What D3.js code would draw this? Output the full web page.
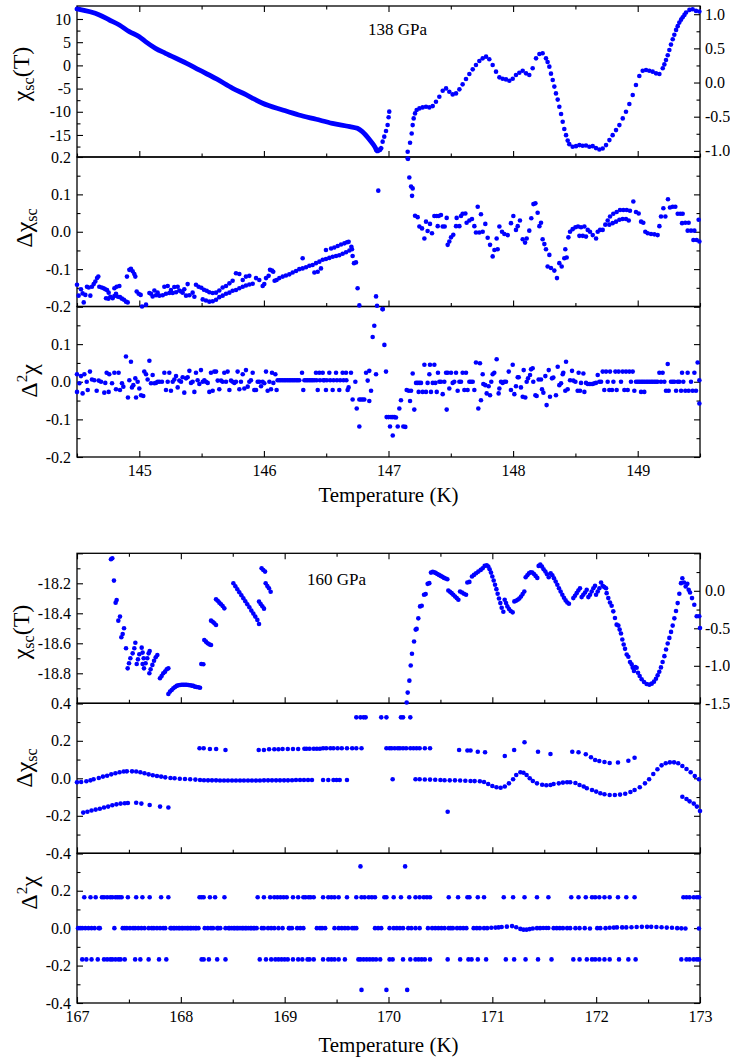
<!DOCTYPE html>
<html>
<head>
<meta charset="utf-8">
<script src="https://cdn.jsdelivr.net/npm/d3@7"></script>
<style>
body { margin: 0; background: #fff; }
svg { display: block; }
svg text { font-family: 'Liberation Serif', 'Times New Roman', Times, 'DejaVu Serif', serif; }
</style>
</head>
<body>
<svg id="chart" width="730" height="1060"></svg>
<script>
'use strict';

// ---- 138 GPa panel ----
const top_temp_domain = [144.5, 149.5];
const top_temp_ticks = [145, 146, 147, 148, 149];
const top_temp_minor = [144.5, 145.5, 146.5, 147.5, 148.5, 149.5];

// chi_sc(T), left axis part (dense curve)
const top_chi_left = [[144.50,12.16],[144.68,10.86],[144.76,9.78],[144.84,8.71],[144.92,7.27],[145.00,6.19],[145.05,5.11],[145.13,3.68],[145.21,2.60],[145.38,0.45],[145.48,-0.99],[145.62,-2.93],[145.75,-4.94],[145.86,-6.38],[145.91,-7.10],[145.99,-8.17],[146.15,-9.61],[146.28,-10.69],[146.42,-11.62],[146.55,-12.49],[146.69,-13.20],[146.75,-13.56],[146.79,-14.28],[146.85,-16.08],[146.89,-17.52],[146.91,-18.45],[146.94,-17.87]];
const top_chi_left_tail = [[146.953,-16.44],[146.966,-15.36],[146.980,-14.14],[146.993,-12.84],[147.001,-11.19],[147.006,-9.97]];
// chi_sc(T), right axis part
const top_chi_right = [[147.154,-1.112],[147.173,-0.882],[147.186,-0.745],[147.194,-0.623],[147.202,-0.525],[147.213,-0.452],[147.226,-0.403],[147.248,-0.379],[147.274,-0.364],[147.301,-0.354],[147.328,-0.364],[147.355,-0.345],[147.381,-0.281],[147.408,-0.208],[147.435,-0.120],[147.462,-0.086],[147.488,-0.134],[147.515,-0.174],[147.542,-0.159],[147.569,-0.100],[147.595,-0.027],[147.622,0.051],[147.649,0.125],[147.676,0.193],[147.702,0.256],[147.729,0.315],[147.756,0.354],[147.783,0.379],[147.809,0.340],[147.836,0.256],[147.863,0.159],[147.890,0.076],[147.916,0.056],[147.943,0.046],[147.970,0.027],[147.997,0.056],[148.023,0.110],[148.050,0.144],[148.077,0.173],[148.104,0.134],[148.130,0.110],[148.157,0.208],[148.184,0.354],[148.211,0.418],[148.237,0.428],[148.264,0.354],[148.277,0.300],[148.291,0.232],[148.304,0.130],[148.318,0.037],[148.331,-0.060],[148.344,-0.159],[148.358,-0.250],[148.371,-0.354],[148.385,-0.460],[148.398,-0.574],[148.411,-0.680],[148.425,-0.770],[148.438,-0.850],[148.451,-0.902],[148.478,-0.941],[148.505,-0.931],[148.532,-0.916],[148.558,-0.926],[148.585,-0.921],[148.612,-0.941],[148.639,-0.931],[148.665,-0.960],[148.692,-0.980],[148.719,-0.965],[148.746,-0.916],[148.773,-0.843],[148.799,-0.770],[148.826,-0.696],[148.853,-0.623],[148.880,-0.525],[148.906,-0.428],[148.933,-0.315],[148.960,-0.183],[148.986,-0.037],[149.013,0.095],[149.040,0.173],[149.067,0.183],[149.093,0.173],[149.120,0.159],[149.147,0.134],[149.174,0.125],[149.201,0.208],[149.214,0.265],[149.227,0.330],[149.241,0.400],[149.254,0.476],[149.267,0.555],[149.281,0.633],[149.294,0.700],[149.308,0.770],[149.321,0.825],[149.334,0.877],[149.348,0.920],[149.361,0.956],[149.375,0.990],[149.388,1.024],[149.415,1.063],[149.441,1.073],[149.468,1.048],[149.495,1.039]];

const top_dchi = [[144.500,-0.142],[144.513,-0.171],[144.532,-0.154],[144.545,-0.165],[144.554,-0.189],[144.567,-0.169],[144.580,-0.147],[144.594,-0.149],[144.607,-0.171],[144.620,-0.147],[144.634,-0.140],[144.647,-0.133],[144.661,-0.124],[144.671,-0.120],[144.679,-0.147],[144.698,-0.149],[144.714,-0.151],[144.727,-0.154],[144.741,-0.156],[144.754,-0.163],[144.768,-0.174],[144.786,-0.178],[144.800,-0.172],[144.813,-0.166],[144.829,-0.174],[144.845,-0.175],[144.861,-0.179],[144.877,-0.182],[144.893,-0.187],[144.907,-0.189],[144.733,-0.178],[144.752,-0.179],[144.800,-0.151],[144.818,-0.147],[144.840,-0.145],[144.901,-0.120],[144.920,-0.102],[144.933,-0.099],[144.947,-0.106],[144.960,-0.113],[144.968,-0.120],[144.979,-0.160],[144.995,-0.166],[145.011,-0.169],[145.022,-0.200],[145.054,-0.195],
[145.081,-0.164],[145.107,-0.173],[145.134,-0.170],[145.161,-0.171],[145.188,-0.170],[145.214,-0.166],[145.241,-0.164],[145.268,-0.164],[145.295,-0.162],[145.321,-0.157],[145.348,-0.163],[145.375,-0.171],[145.402,-0.170],[145.428,-0.163],[145.094,-0.166],[145.121,-0.157],[145.147,-0.163],[145.201,-0.147],[145.228,-0.145],[145.254,-0.156],[145.281,-0.148],[145.308,-0.147],[145.335,-0.160],[145.361,-0.154],[145.388,-0.140],[145.442,-0.174],
[145.455,-0.142],[145.476,-0.147],[145.498,-0.150],[145.519,-0.155],[145.541,-0.158],[145.562,-0.162],[145.589,-0.164],[145.616,-0.163],[145.642,-0.157],[145.669,-0.149],[145.696,-0.145],[145.509,-0.181],[145.535,-0.184],[145.562,-0.187],[145.589,-0.186],[145.616,-0.182],[145.642,-0.175],[145.669,-0.171],[145.696,-0.166],[145.723,-0.163],[145.749,-0.158],[145.776,-0.156],[145.803,-0.151],[145.830,-0.147],[145.856,-0.144],[145.883,-0.141],[145.910,-0.139],[145.723,-0.138],[145.749,-0.131],[145.776,-0.111],[145.803,-0.113],[145.830,-0.129],[145.856,-0.120],[145.883,-0.118],[145.937,-0.124],[145.963,-0.129],[145.990,-0.145],[146.003,-0.140],[146.017,-0.124],[146.038,-0.118],[146.049,-0.102],[146.065,-0.104],[146.075,-0.107],[146.086,-0.131],[146.102,-0.129],
[146.124,-0.124],[146.151,-0.120],[146.177,-0.117],[146.204,-0.114],[146.231,-0.109],[146.258,-0.105],[146.284,-0.100],[146.311,-0.098],[146.338,-0.095],[146.365,-0.091],[146.391,-0.089],[146.418,-0.084],[146.445,-0.080],[146.472,-0.075],[146.498,-0.073],[146.525,-0.070],[146.552,-0.067],[146.579,-0.065],[146.605,-0.063],[146.632,-0.059],[146.659,-0.055],[146.686,-0.050],[146.707,-0.047],[146.311,-0.071],[146.405,-0.109],[146.432,-0.107],[146.458,-0.098],[146.498,-0.049],[146.539,-0.045],[146.565,-0.042],[146.592,-0.038],[146.619,-0.034],[146.646,-0.031],[146.667,-0.028],[146.680,-0.027],[146.702,-0.040],[146.712,-0.065],[146.723,-0.084],[146.739,-0.082],[146.752,-0.151],[146.766,-0.197],[146.900,-0.173],[146.918,0.110],[146.908,-0.198],[146.953,-0.207],[146.903,0.219],[146.930,0.219],
[147.154,0.214],[147.157,0.195],[147.167,0.145],[147.181,0.121],[147.194,0.116],[147.189,0.096],[147.213,0.043],[147.234,0.039],[147.248,0.014],[147.269,0.009],[147.288,-0.018],[147.301,0.027],[147.314,0.002],[147.333,0.021],[147.349,-0.004],[147.368,0.042],[147.387,0.042],[147.403,0.042],[147.421,0.045],[147.395,0.015],[147.435,0.014],[147.451,0.014],[147.467,0.037],[147.475,-0.035],[147.488,-0.026],[147.502,-0.015],[147.520,-0.008],[147.542,0.015],[147.547,0.037],[147.569,0.015],[147.582,0.042],[147.595,0.048],[147.617,0.049],[147.627,0.024],[147.649,0.030],[147.670,0.034],[147.689,0.015],[147.716,0.067],[147.702,-0.002],[147.729,-0.002],[147.742,0.047],[147.756,0.000],[147.777,0.021],[147.796,-0.016],[147.815,-0.035],[147.836,-0.066],[147.850,-0.049],[147.876,-0.047],[147.868,-0.018],[147.890,0.014],[147.911,0.000],[147.930,-0.006],[147.957,-0.009],[147.983,0.023],[148.002,0.042],[148.023,0.005],[148.037,0.015],[148.055,0.030],[148.077,-0.020],[148.096,-0.029],[148.109,-0.018],[148.130,0.003],[148.146,0.036],[148.163,0.074],[148.179,0.076],[148.197,0.051],[148.211,0.015],[148.224,0.024],[148.237,-0.020],[148.251,-0.033],[148.264,-0.047],[148.291,-0.062],[148.277,-0.093],[148.304,-0.097],[148.331,-0.104],[148.352,-0.124],[148.371,-0.084],[148.390,-0.093],[148.411,-0.071],[148.430,-0.069],[148.419,-0.047],[148.444,-0.015],[148.457,0.000],[148.478,0.007],[148.500,0.012],[148.521,0.014],[148.545,0.012],[148.572,0.014],[148.532,-0.011],[148.559,-0.011],[148.585,-0.013],[148.599,0.005],[148.617,0.000],[148.639,-0.009],[148.666,-0.018],[148.679,0.000],[148.698,0.005],[148.719,0.005],[148.740,0.019],[148.759,0.030],[148.778,0.041],[148.804,0.048],[148.831,0.053],[148.858,0.058],[148.885,0.058],[148.912,0.058],[148.938,0.056],[148.965,0.081],[148.772,0.019],[148.799,0.023],[148.826,0.027],[148.853,0.032],[148.879,0.034],[148.906,0.034],[148.928,0.030],[148.986,0.053],[149.008,0.049],[149.027,0.027],[149.045,0.024],[149.061,0.000],[149.080,-0.004],[149.107,-0.006],[149.134,-0.007],[149.160,-0.009],[149.174,0.015],[149.187,0.041],[149.206,0.063],[149.222,0.041],[149.243,0.087],[149.259,0.065],[149.281,0.067],[149.302,0.067],[149.321,0.048],[149.342,0.048],[149.361,0.048],[149.356,0.023],[149.382,0.024],[149.409,0.024],[149.401,0.003],[149.428,0.003],[149.455,0.003],[149.447,-0.022],[149.473,-0.022],[149.495,-0.026],[149.489,0.032]];

const top_d2chi = [[144.500,0.020],[144.500,-0.027],[144.519,-0.004],[144.532,0.015],[144.545,-0.031],[144.559,0.020],[144.578,0.000],[144.586,-0.022],[144.604,0.027],[144.620,0.006],[144.639,0.004],[144.658,-0.024],[144.674,0.003],[144.693,0.000],[144.719,-0.029],[144.727,-0.003],[144.738,0.024],[144.754,-0.027],[144.759,0.020],[144.781,-0.004],[144.800,0.024],[144.813,-0.020],[144.834,0.024],[144.845,-0.022],[144.861,-0.004],[144.872,-0.013],[144.893,0.067],[144.909,-0.042],[144.920,0.004],[144.933,0.053],[144.941,-0.015],[144.952,-0.009],[144.968,0.009],[144.974,-0.042],[144.987,0.000],[145.000,-0.018],[145.014,-0.036],[145.032,-0.038],[145.040,0.027],[145.054,0.020],[145.067,0.006],[145.081,0.056],[145.094,-0.004],[145.107,0.018],[145.121,-0.004],[145.134,-0.003],[145.147,0.000],[145.161,0.000],[145.182,0.000],[145.201,0.024],[145.214,-0.022],[145.228,0.000],[145.241,0.024],[145.254,-0.024],[145.268,0.000],[145.281,0.006],[145.295,0.015],[145.308,-0.015],[145.321,0.003],[145.335,0.000],[145.348,0.012],[145.361,-0.029],[145.375,0.009],[145.388,0.012],[145.402,0.029],[145.415,-0.003],[145.428,0.000],[145.442,-0.027],[145.455,0.024],[145.468,0.004],[145.482,-0.006],[145.495,0.031],[145.509,0.000],[145.522,0.004],[145.535,0.000],[145.549,-0.003],[145.562,-0.027],[145.575,0.024],[145.589,-0.024],[145.602,0.027],[145.616,0.027],[145.629,0.003],[145.642,-0.020],[145.656,0.003],[145.669,0.000],[145.682,0.024],[145.696,0.000],[145.709,0.027],[145.723,-0.022],[145.736,0.003],[145.749,0.000],[145.763,-0.003],[145.776,0.000],[145.789,0.027],[145.803,-0.020],[145.816,0.000],[145.830,0.020],[145.843,-0.018],[145.856,0.031],[145.870,-0.013],[145.883,0.000],[145.896,0.004],[145.910,0.024],[145.923,-0.022],[145.937,-0.022],[145.950,0.000],[145.963,0.000],[145.977,-0.012],[145.990,0.000],[146.003,-0.004],[146.017,0.027],[146.030,-0.024],[146.044,0.000],[146.057,-0.020],[146.065,0.024],[146.076,-0.003],[146.092,0.020],[146.102,-0.022],
[146.110,0.004],[146.124,0.004],[146.137,0.004],[146.151,0.004],[146.164,0.004],[146.177,0.004],[146.191,0.004],[146.204,0.004],[146.217,0.004],[146.231,0.004],[146.244,0.004],[146.258,0.004],[146.271,0.004],[146.284,0.004],[146.306,0.024],[146.316,-0.022],[146.325,0.004],[146.338,0.004],[146.351,0.004],[146.365,0.004],[146.378,0.004],[146.391,0.004],[146.405,0.004],[146.418,0.024],[146.423,0.004],[146.432,-0.022],[146.445,0.024],[146.450,0.004],[146.472,0.024],[146.477,0.004],[146.485,0.004],[146.498,-0.022],[146.505,0.004],[146.525,0.024],[146.532,0.004],[146.552,-0.022],[146.559,0.004],[146.579,0.024],[146.586,0.004],[146.605,-0.022],[146.612,0.004],[146.632,0.024],[146.639,0.004],[146.659,0.024],[146.662,0.004],[146.672,-0.022],[146.680,-0.015],[146.699,0.024],[146.712,-0.047],[146.734,0.000],[146.745,-0.071],
[146.766,-0.047],[146.779,-0.047],[146.793,-0.047],[146.806,-0.047],[146.766,-0.119],[146.820,0.024],[146.833,0.003],[146.846,0.029],[146.860,-0.024],[146.846,-0.051],[146.873,0.119],[146.886,0.149],[146.900,0.020],[146.953,0.193],[146.967,0.098],[146.980,0.027],[146.985,-0.094],[147.001,-0.094],[147.020,-0.094],[147.034,-0.094],[147.047,-0.094],[147.060,-0.095],[147.012,-0.119],[147.034,-0.143],[147.074,-0.119],[147.087,-0.071],[147.100,-0.049],[147.119,-0.119],[147.135,-0.120],[147.146,-0.022],[147.162,-0.024],[147.173,-0.051],[147.181,-0.024],[147.194,0.022],[147.207,-0.074],[147.221,-0.003],[147.234,-0.003],[147.248,-0.003],[147.261,-0.003],[147.242,-0.027],[147.274,-0.027],[147.288,0.045],[147.301,-0.027],[147.314,-0.003],[147.328,0.020],[147.333,0.045],[147.341,-0.027],[147.355,-0.003],[147.368,0.045],[147.376,-0.003],[147.387,-0.027],[147.397,0.024],[147.408,0.000],[147.421,0.000],[147.435,-0.033],[147.448,0.000],[147.462,0.024],[147.467,-0.074],[147.475,0.024],[147.488,-0.018],[147.502,0.024],[147.515,-0.003],[147.528,0.000],[147.542,0.024],[147.555,-0.024],[147.569,0.000],[147.582,0.000],[147.595,0.024],[147.609,-0.022],[147.622,0.024],[147.635,-0.022],[147.649,0.000],[147.662,0.000],[147.676,0.000],[147.689,-0.022],[147.702,0.051],[147.721,-0.071],[147.734,0.049],[147.742,-0.049],[147.756,0.020],[147.761,-0.006],[147.777,-0.009],[147.788,-0.031],[147.804,-0.012],[147.815,-0.036],[147.825,0.000],[147.836,0.020],[147.849,0.024],[147.868,0.060],[147.884,-0.031],[147.890,-0.018],[147.903,0.000],[147.916,-0.003],[147.930,0.000],[147.943,0.000],[147.965,0.027],[147.983,-0.022],[147.997,0.045],[148.010,-0.033],[148.023,-0.012],[148.037,0.012],[148.045,0.012],[148.063,-0.015],[148.077,-0.040],[148.085,0.031],[148.098,-0.042],[148.109,0.000],[148.120,0.009],[148.136,0.018],[148.144,0.033],[148.157,0.036],[148.162,0.000],[148.179,-0.036],[148.189,-0.038],[148.205,0.006],[148.224,0.006],[148.232,-0.020],[148.243,-0.029],[148.259,0.015],[148.269,-0.062],[148.286,0.031],[148.296,-0.040],[148.312,0.009],[148.323,0.011],[148.344,-0.036],[148.358,0.040],[148.371,-0.009],[148.385,-0.004],[148.398,0.020],[148.403,0.024],[148.419,-0.024],[148.425,0.053],[148.438,-0.020],[148.457,0.004],[148.473,0.029],[148.483,0.003],[148.500,0.000],[148.518,-0.024],[148.526,0.024],[148.537,-0.024],[148.545,-0.003],[148.564,0.022],[148.572,-0.027],[148.585,-0.003],[148.599,-0.006],[148.612,-0.006],[148.625,-0.006],[148.639,-0.006],[148.652,-0.004],[148.665,-0.003],[148.679,0.018],[148.692,0.000],[148.706,0.000],[148.719,0.027],[148.732,-0.022],[148.746,0.027],[148.759,0.000],[148.772,-0.022],[148.778,0.027],[148.794,-0.022],[148.805,0.000],[148.821,0.027],[148.831,-0.022],[148.847,0.027],[148.866,0.000],[148.879,0.027],[148.893,-0.022],[148.906,0.027],[148.920,-0.022],[148.933,0.027],[148.946,0.000],[148.960,0.027],[148.973,-0.024],[148.986,0.000],[149.000,0.000],[149.013,0.000],[149.027,0.000],[149.040,0.000],[149.053,0.000],[149.067,0.000],[149.080,0.000],[149.093,0.000],[149.107,0.000],[149.120,0.000],[149.134,0.000],[149.147,0.000],[149.160,0.000],[149.027,-0.027],[149.053,-0.027],[149.174,0.024],[149.187,0.000],[149.200,0.024],[149.214,0.000],[149.227,-0.024],[149.241,0.047],[149.249,-0.024],[149.267,0.000],[149.281,0.000],[149.294,0.000],[149.308,-0.024],[149.321,0.000],[149.334,0.000],[149.348,-0.024],[149.356,0.024],[149.366,0.000],[149.382,-0.024],[149.401,0.024],[149.409,-0.024],[149.428,0.000],[149.441,-0.024],[149.455,0.024],[149.468,-0.024],[149.481,0.051],[149.495,0.004],[149.495,-0.058]];

// ---- 160 GPa panel ----
const bot_temp_domain = [167, 173];
const bot_temp_ticks = [167, 168, 169, 170, 171, 172, 173];
const bot_temp_minor = [167.5, 168.5, 169.5, 170.5, 171.5, 172.5];

const bot_chi_left = [[167.327,-18.040],[167.340,-18.033],[167.356,-18.182],[167.372,-18.329],[167.382,-18.311],[167.398,-18.449],[167.414,-18.422],[167.427,-18.560],[167.440,-18.538],[167.453,-18.500],[167.472,-18.633],[167.488,-18.767],[167.501,-18.733],[167.514,-18.700],[167.536,-18.667],[167.552,-18.633],[167.562,-18.596],[167.575,-18.738],[167.587,-18.707],[167.600,-18.673],[167.623,-18.629],[167.632,-18.662],[167.642,-18.700],[167.632,-18.738],[167.645,-18.767],[167.661,-18.733],[167.677,-18.700],[167.690,-18.667],[167.700,-18.651],[167.697,-18.800],[167.709,-18.773],[167.726,-18.744],[167.742,-18.716],[167.758,-18.693],[167.774,-18.678],[167.799,-18.833],[167.815,-18.818],[167.831,-18.800],[167.848,-18.789],[167.864,-18.773],[167.880,-18.767],
[167.880,-18.938],[167.896,-18.922],[167.912,-18.911],[167.928,-18.900],[167.944,-18.891],[167.960,-18.884],[167.976,-18.880],[167.992,-18.878],[168.008,-18.876],[168.024,-18.876],[168.040,-18.876],[168.056,-18.876],[168.072,-18.878],[168.088,-18.880],[168.104,-18.882],[168.120,-18.884],[168.136,-18.889],[168.152,-18.891],[168.169,-18.893],[168.185,-18.896],[168.197,-18.738],[168.217,-18.740],[168.226,-18.578],[168.242,-18.589],[168.258,-18.600],[168.274,-18.607],[168.291,-18.611],[168.291,-18.449],[168.307,-18.456],[168.323,-18.467],[168.339,-18.478],[168.339,-18.307],[168.355,-18.316],[168.371,-18.329],[168.387,-18.340],[168.403,-18.351],[168.419,-18.367],
[168.506,-18.200],[168.525,-18.220],[168.544,-18.240],[168.563,-18.260],[168.583,-18.280],[168.602,-18.300],[168.621,-18.320],[168.640,-18.340],[168.660,-18.360],[168.679,-18.382],[168.698,-18.402],[168.717,-18.422],[168.737,-18.444],[168.753,-18.471],[168.753,-18.322],[168.769,-18.338],[168.785,-18.353],[168.801,-18.369],[168.817,-18.200],[168.833,-18.218],[168.849,-18.233],[168.865,-18.256],[168.778,-18.100],[168.794,-18.111],[168.811,-18.122]];

const bot_chi_right = [[170.175,-1.490],[170.185,-1.357],[170.201,-1.198],[170.214,-0.995],[170.226,-0.840],[170.246,-0.676],[170.262,-0.517],[170.271,-0.508],[170.287,-0.367],[170.304,-0.208],[170.320,-0.199],[170.342,-0.053],[170.358,-0.044],[170.377,0.093],[170.393,0.102],[170.409,0.243],[170.426,0.252],[170.438,0.248],[170.454,0.239],[170.470,0.225],[170.486,0.212],[170.503,0.199],[170.519,0.186],[170.535,0.172],[170.551,0.164],[170.567,0.155],[170.576,0.004],[170.592,-0.013],[170.608,-0.031],[170.624,-0.053],[170.641,-0.075],[170.657,-0.097],[170.673,-0.119],[170.689,-0.009],[170.708,-0.022],[170.727,-0.040],[170.747,-0.053],[170.759,0.111],[170.779,0.119],[170.804,0.190],[170.823,0.212],[170.843,0.234],[170.865,0.256],[170.888,0.279],[170.907,0.301],[170.926,0.332],[170.946,0.340],[170.961,0.323],[170.974,0.287],[170.987,0.243],[171.000,0.190],[171.013,0.137],[171.026,0.080],[171.039,0.022],[171.051,-0.040],[171.064,-0.102],[171.077,-0.164],[171.090,-0.225],[171.106,-0.279],[171.119,-0.119],[171.132,-0.164],[171.145,-0.208],[171.161,-0.243],[171.177,-0.270],[171.196,-0.287],[171.212,-0.141],[171.228,-0.133],[171.244,-0.119],[171.260,-0.102],[171.276,-0.075],[171.292,-0.044],[171.308,-0.009],[171.321,0.181],[171.337,0.208],[171.353,0.234],[171.369,0.248],[171.385,0.243],[171.401,0.225],[171.417,0.199],[171.433,0.172],[171.446,0.332],[171.462,0.349],[171.478,0.323],[171.494,0.287],[171.511,0.256],[171.527,0.221],[171.543,0.181],[171.562,0.234],[171.578,0.208],[171.594,0.168],[171.610,0.124],[171.626,0.080],[171.642,0.035],[171.658,-0.009],[171.674,-0.053],[171.690,-0.093],[171.706,-0.128],[171.722,-0.155],[171.738,-0.172],[171.780,-0.097],[171.796,-0.066],[171.812,-0.031],[171.828,0.004],[171.844,0.035],[171.860,-0.084],[171.876,-0.053],[171.893,-0.022],[171.909,0.013],[171.925,-0.084],[171.941,-0.053],[171.957,-0.009],[171.973,0.035],[171.989,0.066],[171.999,-0.053],[172.015,-0.009],[172.031,0.035],[172.047,0.111],[172.063,0.066],[172.079,0.049],[172.095,0.035],[172.101,-0.031],[172.117,-0.097],[172.133,-0.155],[172.149,-0.199],[172.165,-0.274],[172.181,-0.363],[172.197,-0.451],[172.214,-0.464],[172.226,-0.517],[172.239,-0.570],[172.252,-0.650],[172.265,-0.716],[172.278,-0.774],[172.294,-0.849],[172.310,-0.880],[172.326,-0.950],[172.342,-0.981],[172.352,-1.026],[172.364,-1.070],[172.377,-1.017],[172.390,-1.026],[172.403,-1.092],[172.419,-1.136],[172.438,-1.180],[172.461,-1.216],[172.486,-1.242],[172.512,-1.251],[172.535,-1.238],[172.557,-1.211],[172.576,-1.172],[172.592,-1.127],[172.608,-1.079],[172.624,-1.021],[172.640,-0.950],[172.657,-0.871],[172.673,-0.782],[172.689,-0.703],[172.705,-0.628],[172.721,-0.548],[172.737,-0.464],[172.753,-0.367],[172.769,-0.270],[172.785,-0.164],[172.801,-0.040],[172.817,0.102],[172.830,0.168],[172.846,0.111],[172.862,0.057],[172.878,0.093],[172.891,0.013],[172.904,-0.022],[172.923,-0.097],[172.945,-0.186],[172.968,-0.340],[172.993,-0.340],[173.000,-0.495]];

const bot_dchi = [[167.00,-0.021],[167.04,-0.020],[167.09,-0.016],[167.13,-0.011],[167.16,-0.005],[167.21,0.002],[167.25,0.009],[167.29,0.014],[167.33,0.021],[167.37,0.027],[167.41,0.032],[167.45,0.036],[167.48,0.037],[167.53,0.037],[167.57,0.036],[167.61,0.032],[167.65,0.027],[167.69,0.021],[167.73,0.016],[167.77,0.012],[167.81,0.009],[167.85,0.005],[167.90,0.002],[167.94,0.000],[167.99,-0.002],[168.04,-0.004],[168.09,-0.005],[168.14,-0.007],[168.185,-0.009],[168.223,-0.010],[168.262,-0.011],[168.300,-0.011],[168.339,-0.011],[168.377,-0.012],[168.416,-0.012],[168.454,-0.012],[168.493,-0.012],[168.531,-0.012],[168.570,-0.012],[168.608,-0.012],[168.647,-0.012],[168.685,-0.012],[168.724,-0.012],[168.762,-0.012],[168.801,-0.011],[168.840,-0.011],[168.878,-0.011],[168.917,-0.011],[168.955,-0.011],[168.994,-0.011],[169.032,-0.011],[169.071,-0.010],[169.109,-0.009],[169.148,-0.009],[169.186,-0.009],[169.225,-0.009],[169.263,-0.009],[169.37,-0.009],[169.42,-0.009],[169.47,-0.009],[169.50,-0.009],[169.53,-0.009],[169.60,-0.009],
[167.06,-0.183],[167.10,-0.178],[167.14,-0.172],[167.18,-0.167],[167.22,-0.162],[167.26,-0.156],[167.30,-0.151],[167.34,-0.144],[167.38,-0.139],[167.42,-0.135],[167.46,-0.133],[167.49,-0.132],[167.57,-0.130],[167.62,-0.135],[167.70,-0.142],[167.80,-0.151],[167.88,-0.156],
[168.18,0.160],[168.22,0.160],[168.28,0.156],[168.34,0.156],[168.43,0.151],[168.75,0.151],[168.80,0.151],[168.85,0.155],[168.90,0.155],[168.94,0.155],[168.98,0.156],[169.03,0.156],[169.08,0.156],[169.13,0.156],[169.19,0.158],[169.21,0.158],[169.24,0.158],[169.28,0.158],[169.31,0.158],[169.34,0.158],[169.37,0.160],[169.40,0.160],[169.44,0.160],[169.47,0.160],[169.51,0.160],[169.55,0.160],[169.60,0.160],[169.65,0.160],[169.69,0.160],[169.74,0.160],[169.98,0.160],[170.01,0.160],[170.03,0.160],[170.06,0.160],[170.09,0.160],[170.11,0.160],[170.14,0.160],[170.17,0.160],[170.21,0.160],[170.24,0.160],[170.27,0.160],[170.30,0.160],[170.35,0.160],[170.40,0.160],
[169.69,0.325],[169.73,0.325],[169.76,0.325],[169.78,0.325],[169.93,0.325],[169.98,0.325],[170.12,0.325],[170.14,0.325],[170.21,0.325],[170.04,-0.005],
[170.26,-0.005],[170.30,-0.005],[170.35,-0.006],[170.40,-0.007],[170.45,-0.008],[170.50,-0.009],[170.54,-0.010],[170.59,-0.011],[170.64,-0.011],[170.69,-0.012],[170.74,-0.013],[170.79,-0.014],[170.83,-0.015],[170.88,-0.016],[170.92,-0.020],[170.96,-0.030],[171.00,-0.041],[171.04,-0.048],[171.08,-0.050],[171.12,-0.044],[171.16,-0.027],[171.20,-0.005],[171.23,0.018],[171.27,0.032],[171.30,0.030],[171.33,0.018],[171.36,0.000],[171.39,-0.014],[171.43,-0.027],[171.48,-0.034],[171.52,-0.037],[171.56,-0.036],[171.59,-0.030],[171.64,-0.027],[171.68,-0.023],[171.72,-0.021],[171.75,-0.021],[171.80,-0.025],[171.84,-0.036],[171.88,-0.044],[171.91,-0.053],[171.96,-0.062],[172.00,-0.071],[172.04,-0.080],[172.08,-0.085],[172.13,-0.089],[172.18,-0.089],[172.23,-0.087],[172.28,-0.082],[172.33,-0.073],[172.37,-0.062],[172.42,-0.048],[172.47,-0.027],[172.51,-0.005],[172.55,0.023],[172.59,0.048],[172.63,0.069],[172.67,0.080],[172.71,0.085],[172.75,0.085],[172.79,0.080],[172.83,0.066],[172.87,0.050],[172.91,0.032],[172.95,0.012],[172.99,-0.005],
[172.83,-0.098],[172.87,-0.110],[172.90,-0.123],[172.94,-0.135],[172.97,-0.151],[173.00,-0.174],[170.57,-0.178],
[170.68,0.151],[170.76,0.148],[170.79,0.148],[170.86,0.142],[170.93,0.139],[171.12,0.119],[171.21,0.151],[171.31,0.192],[171.44,0.142],[171.56,0.130],[171.77,0.142],[171.83,0.139],[171.90,0.128],[171.95,0.112],[171.99,0.098],[172.03,0.092],[172.08,0.087],[172.13,0.082],[172.21,0.084],[172.31,0.094],[172.37,0.110]];

// second difference sits on three levels plus a few outliers
const bot_d2_up_level = 0.165, bot_d2_down_level = -0.167;
const bot_d2_up_t = [167.07,167.13,167.18,167.24,167.26,167.29,167.32,167.34,167.37,167.39,167.41,167.43,167.49,167.57,167.63,167.70,167.81,167.88,168.18,168.20,168.22,168.28,168.33,168.42,168.74,168.80,168.86,168.90,168.93,168.96,168.99,169.02,169.08,169.13,169.18,169.20,169.23,169.25,169.28,169.37,169.42,169.45,169.48,169.52,169.60,169.69,169.74,169.77,169.81,169.84,169.87,169.96,169.98,170.05,170.12,170.20,170.26,170.30,170.34,170.37,170.40,170.58,170.67,170.76,170.78,170.86,170.92,171.11,171.20,171.31,171.43,171.54,171.76,171.83,171.90,171.96,171.99,172.03,172.08,172.13,172.21,172.29,172.37,172.84,172.87,172.90,172.94,172.97,172.99];
const bot_d2_down_t = [167.05,167.09,167.14,167.20,167.26,167.29,167.32,167.34,167.37,167.40,167.42,167.46,167.56,167.61,167.69,167.79,167.86,168.20,168.22,168.27,168.35,168.43,168.76,168.82,168.87,168.91,168.94,168.97,169.00,169.03,169.08,169.13,169.17,169.22,169.24,169.28,169.37,169.42,169.45,169.48,169.52,169.58,169.71,169.73,169.76,169.79,169.82,169.85,169.88,169.92,170.01,170.04,170.14,170.21,170.26,170.29,170.32,170.35,170.40,170.57,170.69,170.77,170.80,170.86,170.94,171.13,171.21,171.32,171.44,171.57,171.78,171.84,171.91,171.96,171.99,172.03,172.08,172.13,172.22,172.31,172.38,172.82,172.87,172.90,172.94,172.97,172.99];
const bot_d2_zero = [[167.01,0],[167.03,0],[167.05,0],[167.08,0],[167.11,0],[167.14,0],[167.17,0],[167.21,0],[167.22,0],[167.36,0],[167.44,0],[167.46,0],[167.48,0],[167.51,0],[167.54,0],[167.56,0],[167.59,0],[167.62,0],[167.65,0],[167.69,0],[167.72,0],[167.74,0],[167.77,0],[167.80,0],[167.83,0],[167.85,0],[167.90,0],[167.91,0],[167.93,0],[167.94,0],[167.96,0],[167.98,0],[167.99,0],[168.01,0],[168.02,0],[168.04,0],[168.06,0],[168.07,0],[168.09,0],[168.10,0],[168.12,0],[168.14,0],[168.15,0],[168.17,0],[168.23,0],[168.26,0],[168.29,0],[168.31,0],[168.35,0],[168.36,0],[168.38,0],[168.43,0],[168.46,0],[168.47,0],[168.49,0],[168.51,0],[168.52,0],[168.54,0],[168.55,0],[168.57,0],[168.59,0],[168.60,0],[168.62,0],[168.63,0],[168.65,0],[168.67,0],[168.68,0],[168.70,0],[168.71,0],[168.73,0],[168.78,0],[168.80,0],[168.84,0],[168.87,0],[168.90,0],[168.94,0],[168.98,0],[169.04,0],[169.05,0],[169.07,0],[169.12,0],[169.15,0],[169.18,0],[169.31,0],[169.34,0],[169.36,0],[169.39,0],[169.48,0],[169.52,0],[169.55,0],[169.58,0],[169.61,0],[169.65,0],[169.67,0],[169.69,0],
[169.87,0],[169.90,0],[169.93,0],[170.01,0],[170.05,0],[170.08,0],[170.11,0],[170.14,0],[170.19,0],[170.22,0],[170.26,0],[170.30,0],[170.38,0],[170.42,0],[170.45,0],[170.48,0],[170.51,0],[170.54,0],[170.58,0],[170.60,0],[170.62,0],[170.66,0],[170.69,0],[170.72,0],[170.75,0],[170.82,0],[170.85,0],[170.88,0],[170.92,0],[170.95,0],[170.99,0.002],[171.03,0.003],[171.06,0.004],[171.09,0.006],[171.14,0.008],[171.19,0.011],[171.23,0.005],[171.27,-0.004],[171.30,-0.008],[171.33,-0.008],[171.36,-0.005],[171.39,-0.002],[171.43,0],[171.46,0],[171.49,0.001],[171.52,0.001],[171.54,0.001],[171.59,0],[171.62,0],[171.65,0],[171.68,0],[171.72,0],[171.75,0],[171.80,0],[171.84,0],[171.89,0],[171.94,-0.002],[172.01,0],[172.04,0],[172.09,0],[172.13,0.002],[172.17,0.003],[172.20,0.004],[172.25,0.004],[172.29,0.004],[172.34,0.005],[172.39,0.006],[172.44,0.007],[172.49,0.007],[172.53,0.007],[172.58,0.006],[172.63,0.005],[172.68,0.003],[172.73,0.002],[172.78,0],[172.82,-0.001],[172.86,-0.002],[172.99,-0.002]];
const bot_d2_outer = [[169.73,0.33],[170.16,0.33],[169.74,-0.33],[169.98,-0.33],[170.18,-0.33]];

// ---- drawing ----
const dot_color = '#0000ff';
const plot_left = 77, plot_right = 700;

const svg = d3.select('#chart');
svg.append('rect').attr('width', 730).attr('height', 1060).attr('fill', '#fff');

function fmt_1(v) { return (v < -1e-9 ? '-' : '') + Math.abs(v).toFixed(1); }
function fmt_0(v) { return (v < 0 ? '-' : '') + Math.abs(v); }

function tidy(g) {
    g.select('.domain').remove();
    g.attr('font-family', null).attr('font-size', 16).attr('color', '#000');
    g.selectAll('line').attr('stroke-width', 1.1);
}

function y_axis(g, axis_fn, pos, scale, majors, minors, labels, fmt, pad) {
    g.append('g').attr('transform', `translate(${pos},0)`)
        .call(axis_fn(scale).tickValues(majors).tickSize(-6).tickPadding(pad)
            .tickFormat(d => labels.includes(d) ? fmt(d) : ''))
        .call(tidy);
    g.append('g').attr('transform', `translate(${pos},0)`)
        .call(axis_fn(scale).tickValues(minors).tickSize(-3.5).tickFormat(''))
        .call(tidy);
}

function draw_subplot(cfg) {
    const {x, top, bottom, domain, majors, minors, labels, fmt, right, first, last} = cfg;
    const y = d3.scaleLinear().domain(domain).range([bottom, top]);
    const g = svg.append('g');

    y_axis(g, d3.axisLeft, plot_left, y, majors, minors, labels, fmt, 6);
    if (right) {
        const y_r = d3.scaleLinear().domain(right.domain).range([bottom, top]);
        y_axis(g, d3.axisRight, plot_right, y_r, right.majors, right.minors, right.labels, fmt_1, 5);
        cfg.y_right = y_r;
    } else {
        y_axis(g, d3.axisRight, plot_right, y, majors, minors, [], fmt, 5);
    }

    g.append('g').attr('transform', `translate(0,${bottom})`)
        .call(d3.axisBottom(x).tickValues(cfg.t_ticks).tickSize(-6).tickPadding(8)
            .tickFormat(d => last ? String(d) : ''))
        .call(tidy);
    g.append('g').attr('transform', `translate(0,${bottom})`)
        .call(d3.axisBottom(x).tickValues(cfg.t_minor).tickSize(-3.5).tickFormat(''))
        .call(tidy);
    if (first) {
        g.append('g').attr('transform', `translate(0,${top})`)
            .call(d3.axisTop(x).tickValues(cfg.t_ticks).tickSize(-6).tickFormat(''))
            .call(tidy);
        g.append('g').attr('transform', `translate(0,${top})`)
            .call(d3.axisTop(x).tickValues(cfg.t_minor).tickSize(-3.5).tickFormat(''))
            .call(tidy);
    }

    g.append('rect')
        .attr('x', plot_left).attr('y', top)
        .attr('width', plot_right - plot_left).attr('height', bottom - top)
        .attr('fill', 'none').attr('stroke', '#000').attr('stroke-width', 1.3);
    return y;
}

function dots(data, x, y) {
    svg.append('g').selectAll('circle')
        .data(data)
        .join('circle')
        .attr('cx', d => x(d[0]))
        .attr('cy', d => y(d[1]))
        .attr('r', 2.3)
        .attr('fill', dot_color);
}

function y_title(cx, cy, parts) {
    const t = svg.append('text')
        .attr('transform', `translate(${cx},${cy}) rotate(-90)`)
        .attr('text-anchor', 'middle')
        .attr('font-size', 23)
        .attr('fill', '#000');
    parts.forEach(([s, size, dy]) => {
        t.append('tspan').attr('font-size', size).attr('dy', dy).text(s);
    });
}

function x_title(y) {
    svg.append('text')
        .attr('x', (plot_left + plot_right) / 2).attr('y', y)
        .attr('text-anchor', 'middle')
        .attr('font-size', 21)
        .text('Temperature (K)');
}

const chi_title = [['χ', 24, 0], ['sc', 16, 5], ['(T)', 24, -5]];
const dchi_title = [['Δχ', 24, 0], ['sc', 16, 5]];
const d2chi_title = [['Δ', 24, 0], ['2', 15, -10], ['χ', 24, 10]];

// 138 GPa
const x_top = d3.scaleLinear().domain(top_temp_domain).range([plot_left, plot_right]);
const top_base = {x: x_top, t_ticks: top_temp_ticks, t_minor: top_temp_minor};

const top_cfg1 = Object.assign({}, top_base, {
    top: 6, bottom: 157, domain: [-19.75, 12.8],
    majors: [-15, -10, -5, 0, 5, 10], minors: [-17.5, -12.5, -7.5, -2.5, 2.5, 7.5, 12.5],
    labels: [-15, -10, -5, 0, 5, 10], fmt: fmt_0, first: true,
    right: {domain: [-1.09, 1.12], majors: [-1, -0.5, 0, 0.5, 1], minors: [-0.75, -0.25, 0.25, 0.75], labels: [-1, -0.5, 0, 0.5, 1]}
});
const y_top1 = draw_subplot(top_cfg1);
const y_top2 = draw_subplot(Object.assign({}, top_base, {
    top: 157, bottom: 306.5, domain: [-0.2, 0.2],
    majors: [-0.2, -0.1, 0, 0.1, 0.2], minors: [-0.15, -0.05, 0.05, 0.15],
    labels: [-0.2, -0.1, 0, 0.1, 0.2], fmt: fmt_1
}));
const y_top3 = draw_subplot(Object.assign({}, top_base, {
    top: 306.5, bottom: 457, domain: [-0.2, 0.2],
    majors: [-0.2, -0.1, 0, 0.1, 0.2], minors: [-0.15, -0.05, 0.05, 0.15],
    labels: [-0.2, -0.1, 0, 0.1], fmt: fmt_1, last: true
}));

svg.append('path')
    .datum(top_chi_left)
    .attr('fill', 'none').attr('stroke', dot_color).attr('stroke-width', 4.8)
    .attr('stroke-linejoin', 'round').attr('stroke-linecap', 'round')
    .attr('d', d3.line().x(d => x_top(d[0])).y(d => y_top1(d[1])).curve(d3.curveMonotoneX));
dots(top_chi_left_tail, x_top, y_top1);
dots(top_chi_right, x_top, top_cfg1.y_right);
dots(top_dchi, x_top, y_top2);
dots(top_d2chi, x_top, y_top3);

svg.append('text').attr('x', 368).attr('y', 35)
    .attr('font-size', 17).text('138 GPa');
y_title(29, 74, chi_title);
y_title(32, 228, dchi_title);
y_title(37, 381, d2chi_title);
x_title(502);

// 160 GPa
const x_bot = d3.scaleLinear().domain(bot_temp_domain).range([plot_left, plot_right]);
const bot_base = {x: x_bot, t_ticks: bot_temp_ticks, t_minor: bot_temp_minor};

const bot_cfg1 = Object.assign({}, bot_base, {
    top: 553.3, bottom: 703.3, domain: [-19.0, -18.0],
    majors: [-19.0, -18.8, -18.6, -18.4, -18.2, -18.0], minors: [-18.9, -18.7, -18.5, -18.3, -18.1],
    labels: [-18.8, -18.6, -18.4, -18.2], fmt: fmt_1, first: true,
    right: {domain: [-1.5, 0.5], majors: [-1.5, -1, -0.5, 0, 0.5], minors: [-1.25, -0.75, -0.25, 0.25], labels: [-1.5, -1, -0.5, 0]}
});
const y_bot1 = draw_subplot(bot_cfg1);
const y_bot2 = draw_subplot(Object.assign({}, bot_base, {
    top: 703.3, bottom: 853.3, domain: [-0.4, 0.4],
    majors: [-0.4, -0.2, 0, 0.2, 0.4], minors: [-0.3, -0.1, 0.1, 0.3],
    labels: [-0.4, -0.2, 0, 0.2, 0.4], fmt: fmt_1
}));
const y_bot3 = draw_subplot(Object.assign({}, bot_base, {
    top: 853.3, bottom: 1003, domain: [-0.4, 0.4],
    majors: [-0.4, -0.2, 0, 0.2, 0.4], minors: [-0.3, -0.1, 0.1, 0.3],
    labels: [-0.4, -0.2, 0, 0.2], fmt: fmt_1, last: true
}));

dots(bot_chi_left, x_bot, y_bot1);
dots(bot_chi_right, x_bot, bot_cfg1.y_right);
dots(bot_dchi, x_bot, y_bot2);
dots(bot_d2_up_t.map(t => [t, bot_d2_up_level]), x_bot, y_bot3);
dots(bot_d2_down_t.map(t => [t, bot_d2_down_level]), x_bot, y_bot3);
dots(bot_d2_zero, x_bot, y_bot3);
dots(bot_d2_outer, x_bot, y_bot3);

svg.append('text').attr('x', 307).attr('y', 585)
    .attr('font-size', 17).text('160 GPa');
y_title(29, 632, chi_title);
y_title(32, 768, dchi_title);
y_title(37, 893, d2chi_title);
x_title(1052);
</script>
</body>
</html>
